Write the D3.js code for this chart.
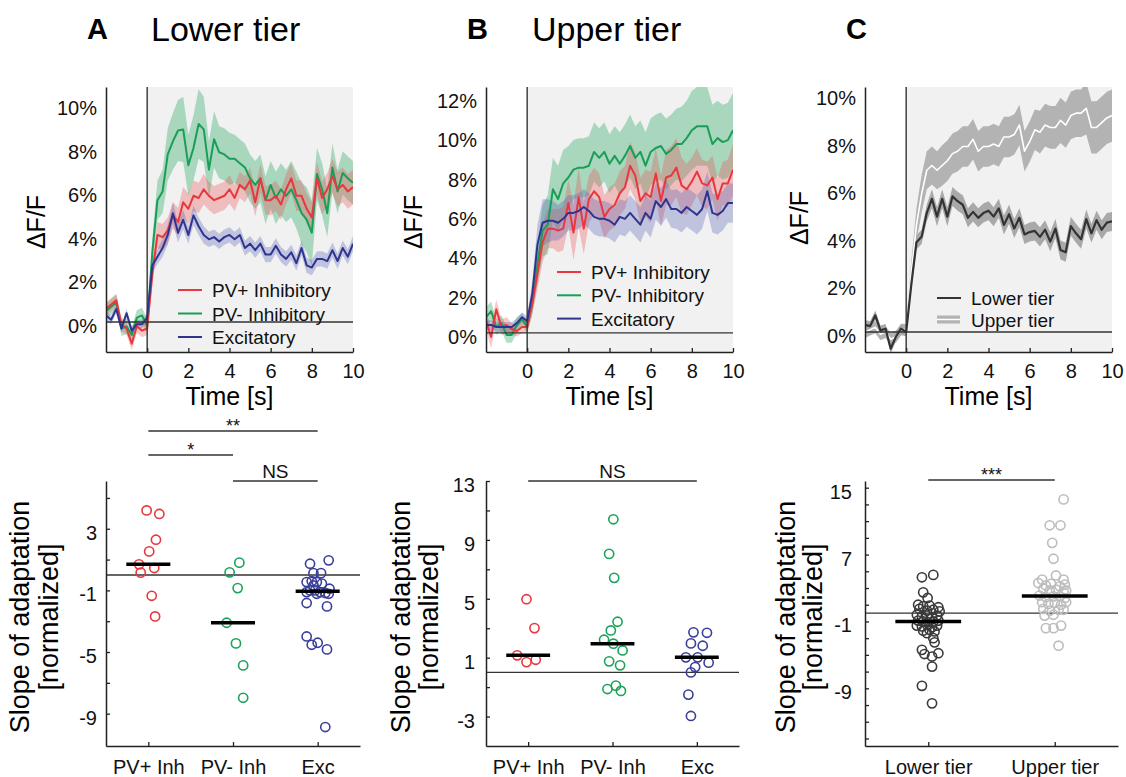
<!DOCTYPE html>
<html><head><meta charset="utf-8">
<script src="https://cdn.jsdelivr.net/npm/d3@7"></script>
<style>
body{margin:0;background:#fff}
svg{display:block;font-family:Arial,"Liberation Sans",Helvetica,sans-serif}
</style>
</head><body>
<script>
// ---------------- DATA ----------------
const timeSec = [-2,-1.75,-1.5,-1.25,-1,-0.75,-0.5,-0.25,0,0.25,0.5,0.75,1,1.25,1.5,1.75,2,2.25,2.5,2.75,3,3.25,3.5,3.75,4,4.25,4.5,4.75,5,5.25,5.5,5.75,6,6.25,6.5,6.75,7,7.25,7.5,7.75,8,8.25,8.5,8.75,9,9.25,9.5,9.75,10];
const traceNames = ["PV+ Inhibitory","PV- Inhibitory","Excitatory"];
const tierNames = ["Lower tier","Upper tier"];
const timeTicks = [0,2,4,6,8,10];
const pctTicksA = [0,2,4,6,8,10];
const pctTicksB = [0,2,4,6,8,10,12];
const pctTicksC = [0,2,4,6,8,10];

// Panel A (lower tier) mean dF/F (%) and SEM
const lowPvPlus = [0.6,0.8,1.0,-0.1,-0.3,-1.0,-0.2,-0.4,-0.3, 2.2,4.0,3.9,4.2,4.9,4.6,5.5,5.2,5.8,5.7, 6.1,5.8,5.6,5.7,5.8,6.1,5.7,6.3,6.1,6.5, 5.5,6.6,5.6,5.6,5.8,5.4,6.1,6.6,5.8,5.8, 5.2,4.8,6.6,5.7,6.1,6.7,6.1,6.3,6.0,6.2];
const lowPvPlusSem = [0.3,0.3,0.3,0.3,0.3,0.3,0.3,0.3,0.3, 0.5,0.6,0.6,0.6,0.6,0.65,0.7,0.7,0.7,0.7, 0.7,0.65,0.65,0.65,0.65,0.65,0.6,0.6,0.6,0.6, 0.65,0.65,0.65,0.7,0.7,0.7,0.7,0.7,0.7,0.7, 0.7,0.7,0.75,0.75,0.75,0.8,0.8,0.8,0.8,0.8];
const lowPvMinus = [0.5,0.7,0.9,-0.3,-0.2,-0.6,0.2,0.3,-0.2, 3.2,5.6,6.0,7.7,8.3,8.8,8.85,7.2,8.0,9.1, 8.85,7.0,8.4,7.8,7.7,7.5,7.5,7.3,7.1,6.6, 6.3,6.6,5.6,6.3,5.7,6.1,5.8,6.1,5.6,5.0, 4.7,4.1,6.8,6.1,5.0,7.1,6.0,6.85,6.6,6.4];
const lowPvMinusSem = [0.35,0.35,0.35,0.35,0.35,0.35,0.35,0.35,0.35, 0.6,0.9,1.0,1.2,1.3,1.4,1.5,1.4,1.5,1.6, 1.5,1.3,1.3,1.2,1.2,1.2,1.1,1.1,1.1,1.1, 1.1,1.1,1.1,1.1,1.2,1.2,1.2,1.3,1.3,1.4, 1.5,1.5,1.2,1.2,1.1,1.1,1.0,1.0,1.0,1.0];
const lowExc = [0.3,0.1,0.6,-0.3,0.4,-0.4,-0.1,-0.1,0.2, 2.6,3.0,3.4,4.0,5.0,4.1,4.7,4.0,4.9,4.4, 4.0,3.8,3.9,3.7,3.9,4.0,3.8,4.0,3.4,3.6, 3.3,3.6,3.1,3.1,3.5,3.1,2.9,3.2,2.7,3.4, 2.6,2.5,2.9,2.9,2.8,3.3,2.8,3.4,3.0,3.6];
const lowExcSem = [0.2,0.2,0.2,0.2,0.2,0.2,0.2,0.2,0.2, 0.3,0.35,0.4,0.45,0.5,0.45,0.45,0.4,0.45,0.4, 0.4,0.35,0.35,0.35,0.35,0.35,0.35,0.35,0.35,0.35, 0.35,0.35,0.35,0.35,0.35,0.35,0.35,0.35,0.35,0.35, 0.35,0.35,0.35,0.35,0.35,0.35,0.35,0.35,0.35,0.35];

// Panel B (upper tier)
const upPvPlus = [0.6,-0.2,1.2,0.3,0.4,0.2,0.1,0.3,0.3, 1.5,3.0,4.6,5.3,5.3,5.2,5.3,6.6,5.1,6.9, 5.3,6.8,7.2,6.9,5.9,6.3,6.5,7.1,7.4,8.5, 8.0,6.7,7.1,6.9,8.1,6.7,7.9,8.0,8.4,7.5, 7.3,7.7,8.2,7.6,7.5,7.9,6.8,7.6,7.6,8.3];
const upPvPlusSem = [0.4,0.6,0.5,0.4,0.4,0.3,0.3,0.3,0.3, 0.5,0.8,1.0,1.0,1.0,1.1,1.1,1.2,1.4,1.5, 1.3,1.2,1.2,1.2,1.1,1.1,1.1,1.1,1.1,1.2, 1.2,1.2,1.2,1.3,1.3,1.3,1.4,1.5,1.5,1.4, 1.3,1.2,1.2,1.2,1.2,1.1,1.1,1.1,1.2,1.3];
const upPvMinus = [0.8,1.1,0.3,0.5,-0.1,-0.1,0.4,0.7,0.3, 1.5,3.5,5.2,5.5,7.3,6.8,7.6,7.9,8.3,8.4, 8.4,8.5,9.2,8.9,9.2,8.6,9.0,8.6,9.0,9.5, 8.9,9.2,8.5,9.2,9.4,9.5,9.1,9.3,9.6,9.6, 9.9,10.3,10.5,10.5,10.5,9.6,9.9,9.7,9.8,10.3];
const upPvMinusSem = [0.5,0.5,0.4,0.4,0.4,0.4,0.4,0.3,0.3, 0.6,1.0,1.3,1.5,1.6,1.7,1.7,1.6,1.5,1.5, 1.5,1.5,1.5,1.5,1.5,1.5,1.5,1.6,1.6,1.6, 1.6,1.6,1.7,1.7,1.7,1.7,1.8,1.8,1.8,1.9, 1.9,2.0,2.0,2.0,2.0,2.0,1.9,1.9,1.9,1.9];
const upExc = [0.4,0.4,0.3,0.3,0.3,0.3,0.5,0.8,0.6, 2.0,4.5,5.6,5.7,5.7,5.6,5.8,6.1,6.1,6.2, 6.4,6.2,5.9,5.8,5.8,5.7,5.5,5.9,5.8,6.1, 5.8,5.5,6.1,5.8,6.7,6.4,6.8,6.3,6.3,6.1, 6.4,6.2,6.0,6.3,7.2,6.1,6.0,6.2,6.6,6.6];
const upExcSem = [0.25,0.25,0.25,0.25,0.25,0.25,0.25,0.25,0.25, 0.6,1.0,1.2,1.1,1.0,0.9,0.9,0.9,0.9,0.9, 0.9,0.9,0.9,0.9,0.9,0.9,0.9,0.9,0.9,0.9, 0.9,0.9,0.9,0.95,0.95,0.95,0.95,0.95,1.0,1.0, 1.0,1.0,1.0,1.0,1.0,1.0,1.0,1.0,1.0,1.0];

// Panel C (tiers)
const tierLow = [0.3,0.25,0.7,0.07,0.14,-0.7,-0.2,0.14,0.0, 2.0,3.77,4.0,5.0,5.6,4.85,5.6,4.85,5.7,5.5, 5.35,4.8,5.05,4.8,5.0,5.1,4.85,5.2,4.5,4.95, 4.35,4.8,4.1,4.2,4.25,4.0,4.3,3.8,4.35,3.45, 3.35,4.45,4.15,3.9,4.75,4.15,4.7,4.3,4.6,4.65];
const tierLowSem = [0.2,0.2,0.2,0.2,0.2,0.2,0.2,0.2,0.2, 0.25,0.3,0.3,0.35,0.4,0.4,0.4,0.4,0.4,0.4, 0.4,0.4,0.4,0.4,0.4,0.4,0.4,0.4,0.4,0.4, 0.4,0.4,0.4,0.4,0.4,0.4,0.4,0.4,0.4,0.4, 0.4,0.4,0.4,0.4,0.4,0.4,0.4,0.4,0.4,0.4];
const tierUp = [0.0,0.1,0.2,-0.1,0.0,-0.3,-0.2,0.1,0.1, 2.5,4.5,5.8,6.8,7.0,6.8,7.0,7.2,7.5,7.6, 7.8,7.8,8.1,7.6,7.8,7.8,7.9,7.8,8.2,8.2, 8.3,8.7,7.6,8.0,8.5,8.4,8.7,8.6,8.6,8.9, 8.7,9.1,9.2,9.2,9.4,8.6,8.6,8.8,9.0,9.1];
const tierUpSem = [0.25,0.25,0.25,0.25,0.25,0.25,0.25,0.25,0.25, 0.5,0.7,0.8,0.8,0.8,0.8,0.85,0.85,0.85,0.85, 0.85,0.85,0.85,0.85,0.85,0.85,0.85,0.85,0.85,0.85, 0.85,0.85,0.85,0.85,0.85,0.9,0.9,0.9,0.9,0.95, 0.95,1.0,1.0,1.0,1.1,1.1,1.1,1.1,1.1,1.1];

// Slope of adaptation (normalized); jitter in category-index units
const cellCats = ["PV+ Inh","PV- Inh","Exc"];
const slopeTicksA = [5,3,1,-1,-3,-5,-7,-9];
const slopeLabelsA = [3,-1,-5,-9];
const slopeTicksB = [13,11,9,7,5,3,1,-1,-3];
const slopeLabelsB = [13,9,5,1,-3];
const slopeTicksC = [15,13,11,9,7,5,3,1,-1,-3,-5,-7,-9,-11,-13,-15];
const slopeLabelsC = [15,7,-1,-9];

const slopeLowPvPlus = [4.19,3.96,2.29,1.53,0.69,0.45,0.15,-1.35,-2.69];
const jitLowPvPlus = [-0.02,0.13,0.09,0.01,-0.11,0.07,-0.09,0.04,0.08];
const slopeLowPvMinus = [0.80,0.17,-0.85,-3.10,-4.44,-5.87,-7.97];
const jitLowPvMinus = [0.075,-0.04,0.055,-0.075,0.035,0.12,0.12];
const slopeLowExc = [0.73,0.95,0.12,0.12,-0.46,-0.40,-0.46,-0.68,-0.56,-1.0,-1.0,-1.11,-1.17,-0.89,-1.11,-1.22,-1.22,-1.82,-2.04,-3.99,-4.53,-4.40,-4.83,-9.87];
const jitLowExc = [-0.09,0.13,-0.05,0.04,-0.13,-0.07,-0.01,-0.05,0.05,-0.09,-0.03,0.03,0.09,0.14,-0.13,-0.01,0.13,-0.13,0.11,-0.13,-0.07,0.0,0.11,0.09];

const slopeUpPvPlus = [4.97,3.01,1.16,0.70,0.86];
const jitUpPvPlus = [-0.02,0.075,-0.13,-0.02,0.09];
const slopeUpPvMinus = [10.40,8.05,6.42,3.44,2.85,2.22,1.95,1.49,0.75,0.48,-1.13,-0.90,-1.26];
const jitUpPvMinus = [0.01,-0.04,0.02,0.06,-0.02,-0.1,0.01,0.12,-0.04,0.09,-0.06,0.04,0.1];
const slopeUpExc = [2.72,2.69,1.97,1.81,1.02,1.02,0.66,0.36,0.0,-1.51,-2.96];
const jitUpExc = [-0.04,0.12,-0.07,0.07,-0.13,0.01,0.14,-0.02,-0.07,-0.1,-0.07];

const slopeTierLow = [4.28,4.57,2.48,1.81, 1.0,0.8,0.9,0.7, 0.5,0.3,0.4,0.2, -0.2,-0.4,-0.3,-0.5,-0.3, -0.9,-1.0,-1.1,-1.0,-0.9, -1.5,-1.6,-1.4,-1.7,-1.5, -2.1,-2.0,-2.2, -2.4, -3.0,-3.5, -4.4,-4.9,-4.8,-5.2, -6.4, -8.7, -10.8];
const jitTierLow = [-0.05,0.04,-0.04,-0.005, -0.08,-0.04,0.01,0.08, -0.07,-0.01,0.04,0.09, -0.09,-0.05,-0.01,0.03,0.07, -0.08,-0.04,0,0.04,0.08, -0.09,-0.05,-0.01,0.03,0.07, -0.04,0.01,0.05, -0.01, 0.04,0.05, -0.05,-0.03,0.08,0.03, 0.03, -0.05, 0.03];
const slopeTierUp = [13.6, 10.5,10.5, 8.4, 6.5, 4.5,4.0,4.0, 3.6,3.3,3.5,3.2,3.4, 2.9,2.7,2.8,2.6,2.7, 2.1,1.9,2.0,2.0,1.8, 1.3,1.1,1.2,1.0,1.3, 0.5,0.3,0.4,0.4, -0.3,-0.2, -1.8,-1.8,-1.5, -3.9];
const jitTierUp = [0.07, -0.04,0.045, -0.02, -0.01, 0.01,-0.1,0.07, -0.13,-0.07,-0.03,0.04,0.08, -0.09,-0.04,0.01,0.07,0.09, -0.12,-0.07,-0.01,0.04,0.08, -0.1,-0.05,0,0.05,0.09, -0.09,-0.04,0.03,0.07, -0.08,-0.01, -0.07,-0.01,0.05, 0.03];

const sigA = [[0,2,"**"],[0,1,"*"],[1,2,"NS"]];
const sigB = [[0,2,"NS"]];
const sigC = [[0,1,"***"]];

// ---------------- DRAWING ----------------
const RED = "#e8383d", GREEN = "#1a9e57", BLUE = "#2e3490";
const RED_BAND = "rgba(232,80,85,0.32)", GREEN_BAND = "rgba(40,170,100,0.36)", BLUE_BAND = "rgba(80,90,180,0.30)";
const AX = "#222";

const svg = d3.select("body").append("svg").attr("width",1126).attr("height",777);

// Titles
function title(x, letter, tx, text){
  svg.append("text").attr("x",x).attr("y",39).attr("font-size",29).attr("font-weight","bold").text(letter);
  if(text) svg.append("text").attr("x",tx).attr("y",41).attr("font-size",34).text(text);
}
title(87,"A",151,"Lower tier");
title(467,"B",532,"Upper tier");
title(846,"C");

function trace(o){
  const top = 87, bot = 352;
  const x = d3.scaleLinear().domain([-2,10]).range([o.left,o.right]);
  const y = d3.scaleLinear().domain(o.yDomain).range([bot,top]);
  const g = svg.append("g");
  svg.append("clipPath").attr("id","clip"+o.id).append("rect")
    .attr("x",o.left).attr("y",top).attr("width",o.right-o.left).attr("height",bot-top);
  g.append("rect").attr("x",x(0)).attr("y",top).attr("width",x(10)-x(0)).attr("height",bot-top).attr("fill","#f1f1f1");
  const pg = g.append("g").attr("clip-path","url(#clip"+o.id+")");
  o.series.forEach(s=>{
    const area = d3.area().x((d,i)=>x(timeSec[i])).y0((d,i)=>y(d-s.sem[i])).y1((d,i)=>y(d+s.sem[i]));
    pg.append("path").datum(s.mean).attr("d",area).attr("fill",s.band).attr("stroke","none");
  });
  g.append("line").attr("x1",o.left).attr("x2",o.right).attr("y1",y(0)).attr("y2",y(0)).attr("stroke","#333").attr("stroke-width",1.3);
  g.append("line").attr("x1",x(0)).attr("x2",x(0)).attr("y1",top).attr("y2",bot).attr("stroke","#333").attr("stroke-width",1.4);
  o.series.forEach(s=>{
    const ln = d3.line().x((d,i)=>x(timeSec[i])).y(d=>y(d));
    pg.append("path").datum(s.mean).attr("d",ln).attr("fill","none").attr("stroke",s.color).attr("stroke-width",s.width||2).attr("stroke-linejoin","round");
  });
  const xa = g.append("g").attr("transform",`translate(0,${bot})`)
    .call(d3.axisBottom(x).tickValues(timeTicks).tickSizeInner(-4).tickSizeOuter(0).tickPadding(10).tickFormat(d=>String(d)));
  xa.select(".domain").attr("stroke",AX).attr("stroke-width",1.5);
  xa.selectAll(".tick line").attr("stroke",AX).attr("stroke-width",1.3);
  xa.selectAll("text").attr("font-size",20).attr("fill","#111").attr("font-family",null).attr("y",26).attr("dy",null);
  const ya = g.append("g").attr("transform",`translate(${o.left},0)`)
    .call(d3.axisLeft(y).tickValues(o.yTicks).tickSizeInner(0).tickSizeOuter(0).tickPadding(9).tickFormat(d=>d+"%"));
  ya.select(".domain").attr("stroke",AX).attr("stroke-width",1.5);
  ya.selectAll("text").attr("font-size",20).attr("fill","#111").attr("font-family",null).attr("dy",null).attr("y",10.5);
  g.append("text").attr("x",(o.left+o.right)/2).attr("y",405).attr("text-anchor","middle").attr("font-size",25).text("Time [s]");
  g.append("text").attr("transform",`translate(${o.labelX},${o.labelY}) rotate(-90)`).attr("text-anchor","middle").attr("font-size",25).text("ΔF/F");
  o.legend.forEach((L,i)=>{
    const yy = o.legY + i*o.legStep;
    if(L.band){
      g.append("rect").attr("x",o.legX).attr("y",yy-4).attr("width",23).attr("height",8).attr("fill",L.band);
      g.append("line").attr("x1",o.legX).attr("x2",o.legX+23).attr("y1",yy).attr("y2",yy).attr("stroke","#fff").attr("stroke-width",1.5);
    } else {
      g.append("line").attr("x1",o.legX).attr("x2",o.legX+24).attr("y1",yy).attr("y2",yy).attr("stroke",L.color).attr("stroke-width",2);
    }
    g.append("text").attr("x",o.legX+34).attr("y",yy+7).attr("font-size",19).attr("fill","#111").text(L.name);
  });
}

trace({id:"A", left:106, right:353, yDomain:[-1.38,10.8], yTicks:pctTicksA, labelX:45, labelY:222,
  series:[
    {mean:lowPvMinus, sem:lowPvMinusSem, color:GREEN, band:GREEN_BAND},
    {mean:lowPvPlus, sem:lowPvPlusSem, color:RED, band:RED_BAND},
    {mean:lowExc, sem:lowExcSem, color:BLUE, band:BLUE_BAND}],
  legend:[{name:traceNames[0],color:RED},{name:traceNames[1],color:GREEN},{name:traceNames[2],color:BLUE}],
  legX:178, legY:290, legStep:23.5});

trace({id:"B", left:486, right:733, yDomain:[-0.97,12.5], yTicks:pctTicksB, labelX:422, labelY:222,
  series:[
    {mean:upPvMinus, sem:upPvMinusSem, color:GREEN, band:GREEN_BAND},
    {mean:upPvPlus, sem:upPvPlusSem, color:RED, band:RED_BAND},
    {mean:upExc, sem:upExcSem, color:BLUE, band:BLUE_BAND}],
  legend:[{name:traceNames[0],color:RED},{name:traceNames[1],color:GREEN},{name:traceNames[2],color:BLUE}],
  legX:557, legY:272, legStep:23.3});

trace({id:"C", left:865, right:1112, yDomain:[-0.84,10.3], yTicks:pctTicksC, labelX:808, labelY:218,
  series:[
    {mean:tierUp, sem:tierUpSem, color:"#ffffff", band:"#b3b3b3", width:1.6},
    {mean:tierLow, sem:tierLowSem, color:"#333333", band:"#a9a9a9", width:2.2}],
  legend:[{name:tierNames[0],color:"#333"},{name:tierNames[1],band:"#b3b3b3"}],
  legX:937, legY:298, legStep:21.5});

function slopes(o){
  const top = 481, bot = 746;
  const x = d3.scaleLinear().domain(o.xDomain).range([o.left,o.right]);
  const y = d3.scaleLinear().domain(o.yDomain).range([bot,top]);
  const g = svg.append("g");
  g.append("line").attr("x1",o.left).attr("x2",o.right).attr("y1",y(0)).attr("y2",y(0)).attr("stroke","#333").attr("stroke-width",1.3);
  o.groups.forEach((gr,ci)=>{
    g.append("g").selectAll("circle").data(gr.values).join("circle")
      .attr("cx",(d,i)=>x(ci+gr.jitter[i])).attr("cy",d=>y(d)).attr("r",4.6)
      .attr("fill","none").attr("stroke",gr.color).attr("stroke-width",1.6);
  });
  o.groups.forEach((gr,ci)=>{
    const m = d3.median(gr.values);
    g.append("line").attr("x1",x(ci-0.26)).attr("x2",x(ci+0.26)).attr("y1",y(m)).attr("y2",y(m))
      .attr("stroke","#000").attr("stroke-width",3.5);
  });
  const xa = g.append("g").attr("transform",`translate(0,${bot})`)
    .call(d3.axisBottom(x).tickValues(o.cats.map((c,i)=>i)).tickSizeInner(-4).tickSizeOuter(0).tickFormat(i=>o.cats[i]));
  xa.select(".domain").attr("stroke",AX).attr("stroke-width",1.5);
  xa.selectAll(".tick line").attr("stroke",AX).attr("stroke-width",1.3);
  xa.selectAll("text").attr("font-size",20).attr("fill","#111").attr("font-family",null).attr("y",28).attr("dy",null);
  const ya = g.append("g").attr("transform",`translate(${o.left},0)`)
    .call(d3.axisLeft(y).tickValues(o.ticks).tickSizeInner(-4).tickSizeOuter(0).tickPadding(o.pad)
      .tickFormat(d=>o.labels.includes(d)?String(d):""));
  ya.select(".domain").attr("stroke",AX).attr("stroke-width",1.5);
  ya.selectAll(".tick line").attr("stroke",AX).attr("stroke-width",1.3);
  ya.selectAll("text").attr("font-size",20).attr("fill","#111").attr("font-family",null).attr("dy",null).attr("y",10.5);
  o.sig.forEach((s,k)=>{
    const yy = o.sigY[k];
    g.append("line").attr("x1",x(s[0])).attr("x2",x(s[1])).attr("y1",yy).attr("y2",yy).attr("stroke","#333").attr("stroke-width",1.3);
    const star = s[2].startsWith("*");
    g.append("text").attr("x",(x(s[0])+x(s[1]))/2).attr("y",star?yy+1:yy-3).attr("text-anchor","middle")
      .attr("font-size",star?18:19).attr("fill","#111").text(s[2]);
  });
  g.append("text").attr("transform",`translate(${o.lab1},617) rotate(-90)`).attr("text-anchor","middle").attr("font-size",27).text("Slope of adaptation");
  g.append("text").attr("transform",`translate(${o.lab2},617) rotate(-90)`).attr("text-anchor","middle").attr("font-size",27).text("[normalized]");
}

slopes({left:106, right:360, xDomain:[-0.5,2.5], yDomain:[-11.1,6.1], cats:cellCats,
  ticks:slopeTicksA, labels:slopeLabelsA, pad:9, lab1:29, lab2:58,
  groups:[{values:slopeLowPvPlus,jitter:jitLowPvPlus,color:RED},
          {values:slopeLowPvMinus,jitter:jitLowPvMinus,color:"#1aa35a"},
          {values:slopeLowExc,jitter:jitLowExc,color:"#3a3f9a"}],
  sig:sigA, sigY:[431,455,481]});

slopes({left:486, right:739, xDomain:[-0.5,2.5], yDomain:[-5,13], cats:cellCats,
  ticks:slopeTicksB, labels:slopeLabelsB, pad:11, lab1:410, lab2:438,
  groups:[{values:slopeUpPvPlus,jitter:jitUpPvPlus,color:RED},
          {values:slopeUpPvMinus,jitter:jitUpPvMinus,color:"#1aa35a"},
          {values:slopeUpExc,jitter:jitUpExc,color:"#3a3f9a"}],
  sig:sigB, sigY:[481]});

slopes({left:865, right:1118, xDomain:[-0.5,1.5], yDomain:[-15.9,15.8], cats:tierNames,
  ticks:slopeTicksC, labels:slopeLabelsC, pad:13, lab1:795, lab2:822,
  groups:[{values:slopeTierLow,jitter:jitTierLow,color:"#3a3a3a"},
          {values:slopeTierUp,jitter:jitTierUp,color:"#bdbdbd"}],
  sig:sigC, sigY:[480]});
</script>
</body></html>
